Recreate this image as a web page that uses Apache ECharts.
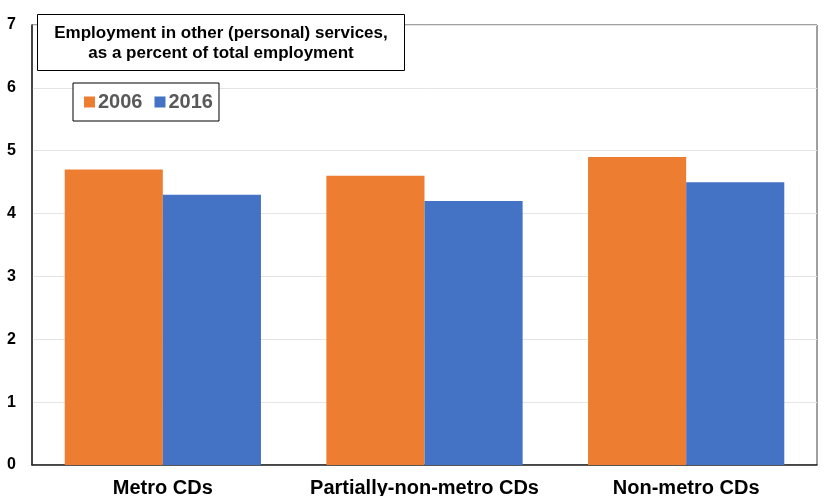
<!DOCTYPE html>
<html>
<head>
<meta charset="utf-8">
<script src="https://cdn.jsdelivr.net/npm/echarts@6/dist/echarts.min.js"></script>
<style>html,body{margin:0;padding:0;background:#fff}#c{width:825px;height:496px}</style>
</head>
<body>
<div id="c"></div>
<script>
const categories = ['Metro CDs', 'Partially-non-metro CDs', 'Non-metro CDs'];
const values2006 = [4.7, 4.6, 4.9];
const values2016 = [4.3, 4.2, 4.5];
const seriesNames = ['2006', '2016'];
const yTicks = [0, 1, 2, 3, 4, 5, 6, 7];
const titleText = 'Employment in other (personal) services,\nas a percent of total employment';

const chart = echarts.init(document.getElementById('c'));
const font = '"Liberation Sans", Arial, sans-serif';
chart.setOption({
  animation: false,
  backgroundColor: '#fff',
  title: {
    text: titleText,
    left: 204, top: 14,
    textAlign: 'center',
    padding: [9, 17, 8, 17],
    borderColor: '#000', borderWidth: 1,
    backgroundColor: '#fff',
    textStyle: {fontFamily: font, fontWeight: 'bold', fontSize: 17, color: '#000', lineHeight: 20}
  },
  legend: {
    data: seriesNames,
    left: 73, top: 83,
    padding: [9, 6, 9, 11],
    borderColor: '#000', borderWidth: 1,
    backgroundColor: '#fff',
    icon: 'rect', itemWidth: 11, itemHeight: 11, itemGap: 12,
    textStyle: {fontFamily: font, fontWeight: 'bold', fontSize: 20, color: '#595959', padding: [0, 0, 0, -2]}
  },
  grid: {left: 32, right: 8, top: 25, bottom: 31, show: true, borderColor: '#404040', borderWidth: 1, containLabel: false, outerBoundsMode: 'none'},
  xAxis: {
    type: 'category', data: categories,
    axisTick: {show: false},
    axisLine: {lineStyle: {color: '#262626', width: 1.5}},
    axisLabel: {interval: 0, hideOverlap: false, fontFamily: font, fontWeight: 'bold', fontSize: 20, color: '#000', margin: 13}
  },
  yAxis: {
    type: 'value', min: yTicks[0], max: yTicks[yTicks.length - 1], interval: 1,
    axisLine: {show: true, lineStyle: {color: '#262626', width: 1.5}},
    axisTick: {show: false},
    splitLine: {lineStyle: {color: '#e4e4e4', width: 1}},
    axisLabel: {fontFamily: font, fontWeight: 'bold', fontSize: 16, color: '#000', margin: 16}
  },
  series: [
    {name: seriesNames[0], type: 'bar', data: values2006, barWidth: '37.5%', barGap: '0%', itemStyle: {color: '#ED7D31'}},
    {name: seriesNames[1], type: 'bar', data: values2016, barWidth: '37.5%', barGap: '0%', itemStyle: {color: '#4472C4'}}
  ]
});
</script>
</body>
</html>
